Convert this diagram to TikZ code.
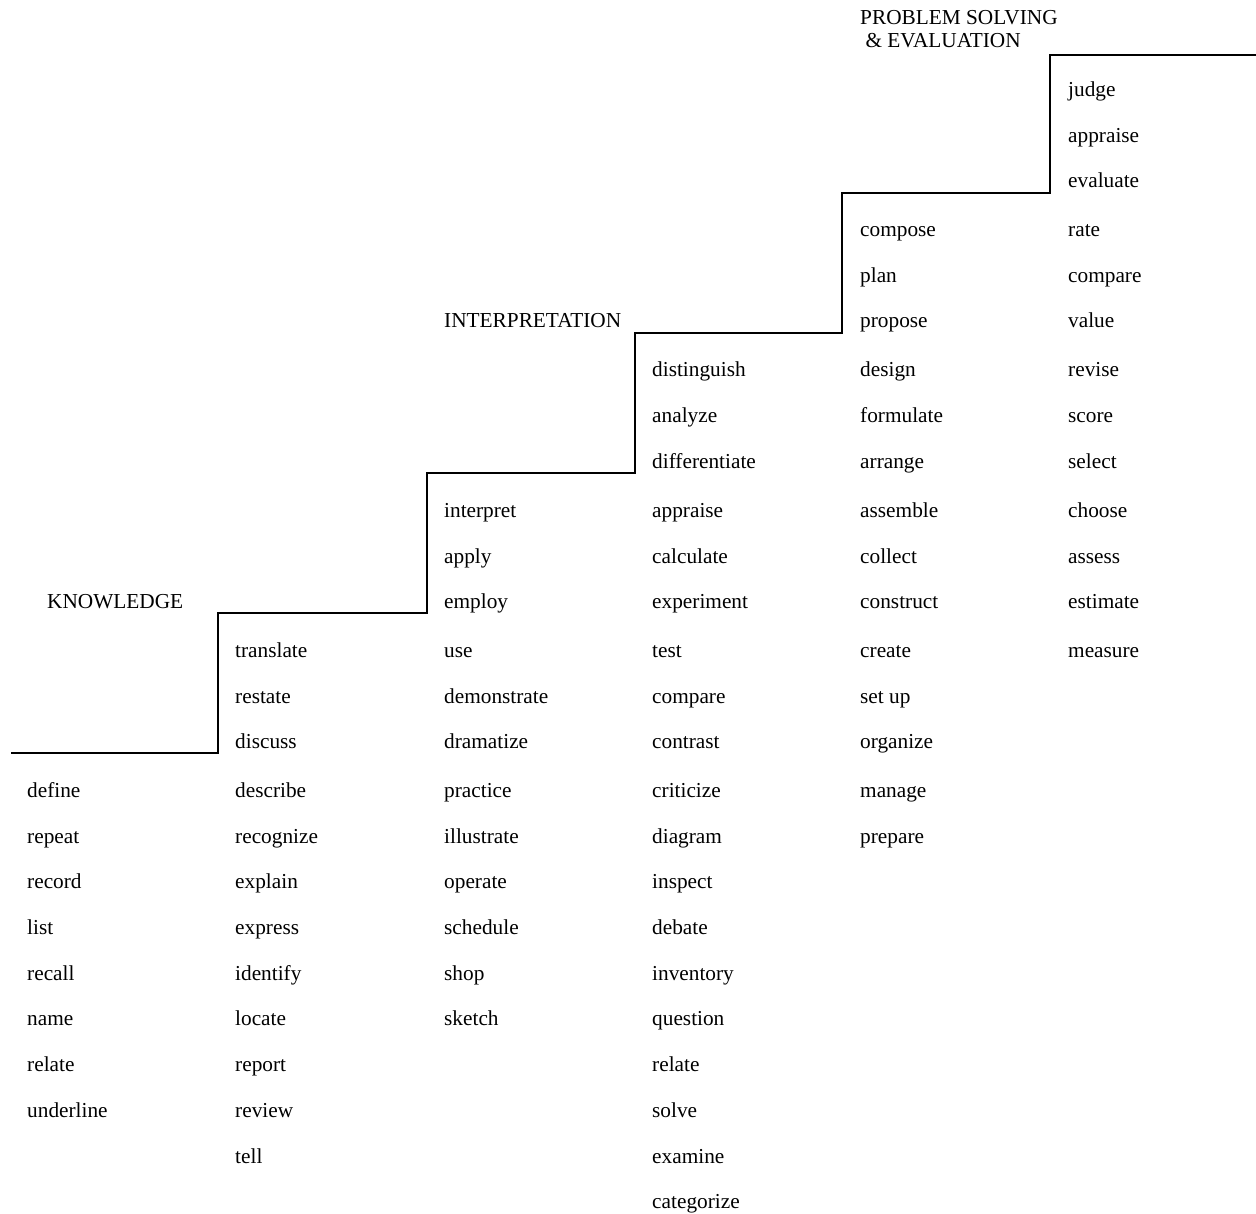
\documentclass[tikz,border=0pt]{standalone}
\usepackage{fontspec}
\setmainfont{Liberation Serif}
\begin{document}
\begin{tikzpicture}[x=1pt,y=-1pt,
  word/.style={anchor=base west,inner sep=0pt,font=\fontsize{21.3}{25}\selectfont},
  stairline/.style={line width=2.8pt,line join=miter,line cap=rect}]
\useasboundingbox (0,0) rectangle (1256,1214);
\def\rows{{0,90,136,181,230,276,321,370,416,461,510,556,601,650,696,741,790,836,881,927,973,1018,1064,1110,1156,1201}}
% staircase
\coordinate (s0) at (12,753);
\coordinate (s1) at (218,753);
\coordinate (s2) at (218,613);
\coordinate (s3) at (427,613);
\coordinate (s4) at (427,473);
\coordinate (s5) at (635,473);
\coordinate (s6) at (635,333);
\coordinate (s7) at (842,333);
\coordinate (s8) at (842,193);
\coordinate (s9) at (1050,193);
\coordinate (s10) at (1050,55);
\coordinate (s11) at (1256,55);
\draw[stairline] (s0) -- (s1) -- (s2) -- (s3) -- (s4) -- (s5) -- (s6) -- (s7) -- (s8) -- (s9) -- (s10) -- (s11);
% headings
\node[word] (hk) at (47,608) {KNOWLEDGE};
\node[word] (hi) at (444,328) {INTERPRETATION};
\node[word] (hp1) at (860,25) {PROBLEM SOLVING};
\node[word] (hp2) at (860,48) {\ \& EVALUATION};
% columns
\foreach \w [count=\i from 16] in {define,repeat,record,list,recall,name,relate,underline}{
  \pgfmathsetmacro\yy{\rows[\i]+7}
  \node[word] (a\i) at (27,\yy) {\w};}
\foreach \w [count=\i from 13] in {translate,restate,discuss,describe,recognize,explain,express,identify,locate,report,review,tell}{
  \pgfmathsetmacro\yy{\rows[\i]+7}
  \node[word] (b\i) at (235,\yy) {\w};}
\foreach \w [count=\i from 10] in {interpret,apply,employ,use,demonstrate,dramatize,practice,illustrate,operate,schedule,shop,sketch}{
  \pgfmathsetmacro\yy{\rows[\i]+7}
  \node[word] (c\i) at (444,\yy) {\w};}
\foreach \w [count=\i from 7] in {distinguish,analyze,differentiate,appraise,calculate,experiment,test,compare,contrast,criticize,diagram,inspect,debate,inventory,question,relate,solve,examine,categorize}{
  \pgfmathsetmacro\yy{\rows[\i]+7}
  \node[word] (d\i) at (652,\yy) {\w};}
\foreach \w [count=\i from 4] in {compose,plan,propose,design,formulate,arrange,assemble,collect,construct,create,set up,organize,manage,prepare}{
  \pgfmathsetmacro\yy{\rows[\i]+7}
  \node[word] (e\i) at (860,\yy) {\w};}
\foreach \w [count=\i from 1] in {judge,appraise,evaluate,rate,compare,value,revise,score,select,choose,assess,estimate,measure}{
  \pgfmathsetmacro\yy{\rows[\i]+7}
  \node[word] (f\i) at (1068,\yy) {\w};}
\end{tikzpicture}
\end{document}
